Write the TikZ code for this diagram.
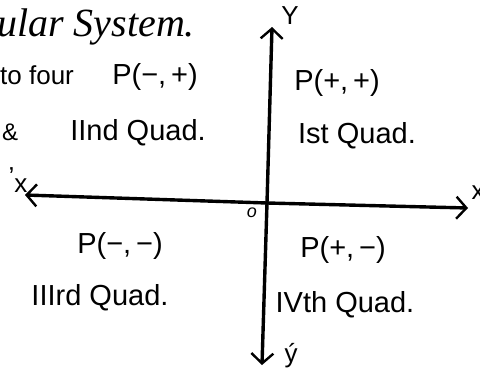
\documentclass[tikz,border=0pt]{standalone}
\usepackage{fontspec}
\setmainfont{Liberation Sans}
\newfontfamily\titlefont{Liberation Serif}
\usetikzlibrary{arrows.meta}
\begin{document}
\begin{tikzpicture}[x=1pt,y=-1pt,
  axis/.style={line width=3.4pt,-{Straight Barb[length=10pt,width=22pt,line width=2.4pt]}},
  lab/.style={inner sep=0pt,font=\fontsize{29}{32}\selectfont},
  quad/.style={inner sep=0pt,font=\fontsize{29}{32}\selectfont},
  axlab/.style={inner sep=0pt,font=\fontsize{26}{28}\selectfont},
  note/.style={inner sep=0pt,anchor=base west}]
\clip (0,0) rectangle (480,380);
\fill[white] (0,0) rectangle (480,380);
% axes
\coordinate (O) at (267,203);
\coordinate (xl) at (25,195);
\coordinate (xr) at (468,208);
\coordinate (yt) at (272,27);
\coordinate (yb) at (262,365);
\draw[axis] (O) -- (xr);
\draw[axis] (O) -- (xl);
\draw[axis] (O) -- (yt);
\draw[axis] (O) -- (yb);
% axis labels
\node[axlab] (ylab) at (290,16) {Y};
\node[axlab] (yplab) at (291,356) {ý};
\node[axlab] (xlab) at (478,193) {x};
\node[axlab] (xplab) at (18,180) {\raisebox{7pt}{'}x};
\node[inner sep=0pt,font=\fontsize{18}{20}\selectfont\itshape] (olab) at (252,213) {o};
% quadrant labels
\node[lab] (p1) at (337,83) {P(+,\,+)};
\node[quad] (q1) at (357,136) {Ist Quad.};
\node[lab] (p2) at (155,77) {P(−,\,+)};
\node[quad] (q2) at (138,133) {IInd Quad.};
\node[lab] (p3) at (120,246) {P(−,\,−)};
\node[quad] (q3) at (100,298) {IIIrd Quad.};
\node[lab] (p4) at (343,250) {P(+,\,−)};
\node[quad] (q4) at (345,305) {IVth Quad.};
% cut-off page text
\node[note,font=\fontsize{40}{44}\selectfont\titlefont\itshape] (title) at (-3,36) {ular System.};
\node[note,font=\fontsize{26}{28}\selectfont] (four) at (0,84) {to four};
\node[note,font=\fontsize{24}{26}\selectfont] (amp) at (2,140) {\&};
\end{tikzpicture}
\end{document}
